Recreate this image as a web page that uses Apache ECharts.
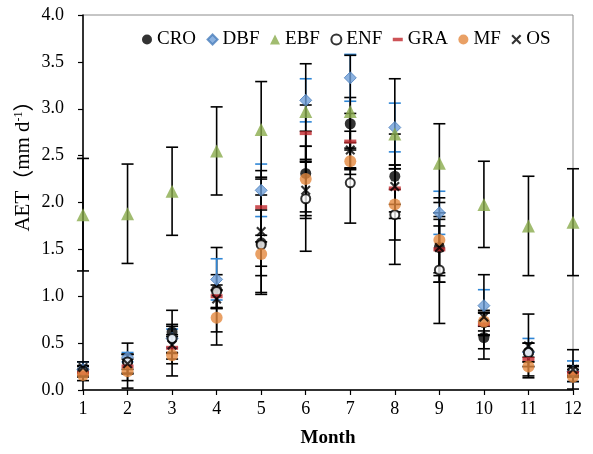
<!DOCTYPE html>
<html>
<head>
<meta charset="utf-8">
<script src="https://cdn.jsdelivr.net/npm/echarts@6/dist/echarts.min.js"></script>
<style>html,body{margin:0;padding:0;background:#fff}#c{width:593px;height:454px}</style>
</head>
<body>
<div id="c"></div>
<script>
var months = [1,2,3,4,5,6,7,8,9,10,11,12];
var seriesNames = ['CRO','DBF','EBF','ENF','GRA','MF','OS'];
var yTicks = [0,0.5,1,1.5,2,2.5,3,3.5,4];

var CRO = [0.20,0.30,0.62,1.07,1.57,2.31,2.84,2.28,1.52,0.56,0.40,0.20];
var DBF = [0.22,0.35,0.55,1.18,2.13,3.09,3.33,2.80,1.89,0.90,0.40,0.20];
var EBF = [1.87,1.88,2.12,2.55,2.78,2.97,2.97,2.73,2.42,1.98,1.75,1.79];
var ENF = [0.20,0.30,0.55,1.05,1.55,2.04,2.21,1.87,1.28,0.72,0.40,0.20];
var GRA = [0.18,0.25,0.45,1.00,1.95,2.74,2.65,2.15,1.50,0.70,0.33,0.18];
var MF  = [0.16,0.20,0.37,0.77,1.45,2.25,2.44,1.98,1.60,0.73,0.25,0.14];
var OS  = [0.24,0.28,0.48,0.97,1.69,2.13,2.56,2.17,1.52,0.78,0.47,0.22];

var CRO_err = [0.06,0.20,0.23,0.45,0.35,0.45,0.28,0.45,0.30,0.12,0.10,0.05];
var DBF_err = [0.08,0.05,0.10,0.22,0.28,0.23,0.25,0.26,0.23,0.17,0.15,0.11];
var EBF_err = [0.60,0.53,0.47,0.47,0.51,0.51,0.60,0.59,0.42,0.46,0.53,0.57];
var ENF_err = [0.05,0.08,0.15,0.18,0.53,0.56,0.43,0.53,0.57,0.13,0.10,0.06];
var GRA_err = [0.04,0.08,0.12,0.12,0.30,0.30,0.30,0.25,0.25,0.12,0.08,0.04];
var MF_err  = [0.06,0.18,0.22,0.29,0.13,0.35,0.14,0.38,0.45,0.10,0.10,0.05];
var OS_err  = [0.06,0.10,0.20,0.10,0.65,0.30,0.20,0.19,0.37,0.45,0.34,0.21];

var values = [CRO,DBF,EBF,ENF,GRA,MF,OS];
var errors = [CRO_err,DBF_err,EBF_err,ENF_err,GRA_err,MF_err,OS_err];
var errColors = ['#000','#2f86d6','#000','#000','#000','#000','#000'];

var xPath = 'path://M0,1.5L1.5,0L5,3.5L8.5,0L10,1.5L6.5,5L10,8.5L8.5,10L5,6.5L1.5,10L0,8.5L3.5,5Z';
var dashPath = 'path://M0,0L12,0Z M0,4L12,4L12,8L0,8Z M0,12L12,12Z';

var styles = [
  {symbol:'circle', symbolSize:11, itemStyle:{color:'#000'}},
  {symbol:'diamond', symbolSize:12, itemStyle:{color:'#6f9fd8', borderColor:'#4a7ebb', borderWidth:1}},
  {symbol:'triangle', symbolSize:13, itemStyle:{color:'#8aab4c'}},
  {symbol:'circle', symbolSize:9, itemStyle:{color:'#fff', borderColor:'#000', borderWidth:2}},
  {symbol:'rect', symbolSize:[12,4], itemStyle:{color:'#c0282d'}},
  {symbol:'circle', symbolSize:12, itemStyle:{color:'#e3883f'}},
  {symbol:xPath, symbolSize:10, itemStyle:{color:'#000'}}
];
var legendIcons = ['circle','diamond','triangle','circle',dashPath,'circle',xPath];

var series = [];
values.forEach(function(v, i){
  var eb = months.map(function(m, j){ return [m, v[j]-errors[i][j], v[j]+errors[i][j]]; });
  series.push({
    type:'custom', name: seriesNames[i]+'_err', data: eb, z: 2,
    encode:{x:0, y:[1,2]}, clip:false, silent:true,
    renderItem: (function(col){ return function(params, api){
      var x = api.value(0);
      var top = api.coord([x, api.value(2)]);
      var bot = api.coord([x, api.value(1)]);
      var hw = 6;
      var st = {stroke: col, lineWidth: 1.6};
      return {type:'group', children:[
        {type:'line', shape:{x1:top[0],y1:top[1],x2:bot[0],y2:bot[1]}, style:st},
        {type:'line', shape:{x1:top[0]-hw,y1:top[1],x2:top[0]+hw,y2:top[1]}, style:st},
        {type:'line', shape:{x1:bot[0]-hw,y1:bot[1],x2:bot[0]+hw,y2:bot[1]}, style:st}
      ]};
    };})(errColors[i])
  });
});
values.forEach(function(v, i){
  var s = {
    type:'scatter', name: seriesNames[i], clip:false, z: 10+i,
    data: months.map(function(m,j){ return [m, v[j]]; })
  };
  for (var k in styles[i]) s[k] = styles[i][k];
  series.push(s);
});

var chart = echarts.init(document.getElementById('c'), null, {renderer:'canvas'});
var serif = '"Liberation Serif","Times New Roman",serif';
chart.setOption({
  animation:false,
  backgroundColor:'#fff',
  grid:{left:83, right:20, top:15, bottom:64, show:true, borderColor:'#8c8c8c', borderWidth:1},
  legend:{
    left:137, top:25, itemWidth:10, itemHeight:10, itemGap:10.5, selectedMode:false,
    textStyle:{fontFamily:serif, fontSize:19, color:'#000'},
    data: seriesNames.map(function(n,i){ return {name:n, icon:legendIcons[i]}; })
  },
  xAxis:{
    type:'value', min:1, max:12, interval:1,
    name:'Month', nameLocation:'middle', nameGap:39,
    nameTextStyle:{fontFamily:serif, fontSize:19, fontWeight:'bold', color:'#000'},
    axisLine:{lineStyle:{color:'#000', width:1.5}},
    axisTick:{show:true, length:5, lineStyle:{color:'#000', width:1.2}},
    axisLabel:{fontFamily:serif, fontSize:18, color:'#000', margin:10},
    splitLine:{show:false}
  },
  yAxis:{
    type:'value', min:0, max:4, interval:0.5,
    axisLine:{show:true, lineStyle:{color:'#000', width:1.5}},
    axisTick:{show:true, length:5, lineStyle:{color:'#000', width:1.2}},
    axisLabel:{fontFamily:serif, fontSize:18, color:'#000', margin:19,
      formatter:function(v){ return v.toFixed(1); }},
    splitLine:{show:false}
  },
  graphic:[{
    type:'text', x:23, y:161, rotation:Math.PI/2,
    style:{
      text:'{a|AET}{p|（}{a|mm d}{s|-1}{p|）}',
      align:'center', verticalAlign:'middle',
      rich:{
        a:{fontFamily:serif, fontSize:21, color:'#000'},
        p:{fontFamily:'"Noto Sans CJK SC"', fontSize:21, color:'#000'},
        s:{fontFamily:serif, fontSize:12, color:'#000', verticalAlign:'top'}
      }
    }
  }],
  series: series
});
</script>
</body>
</html>
